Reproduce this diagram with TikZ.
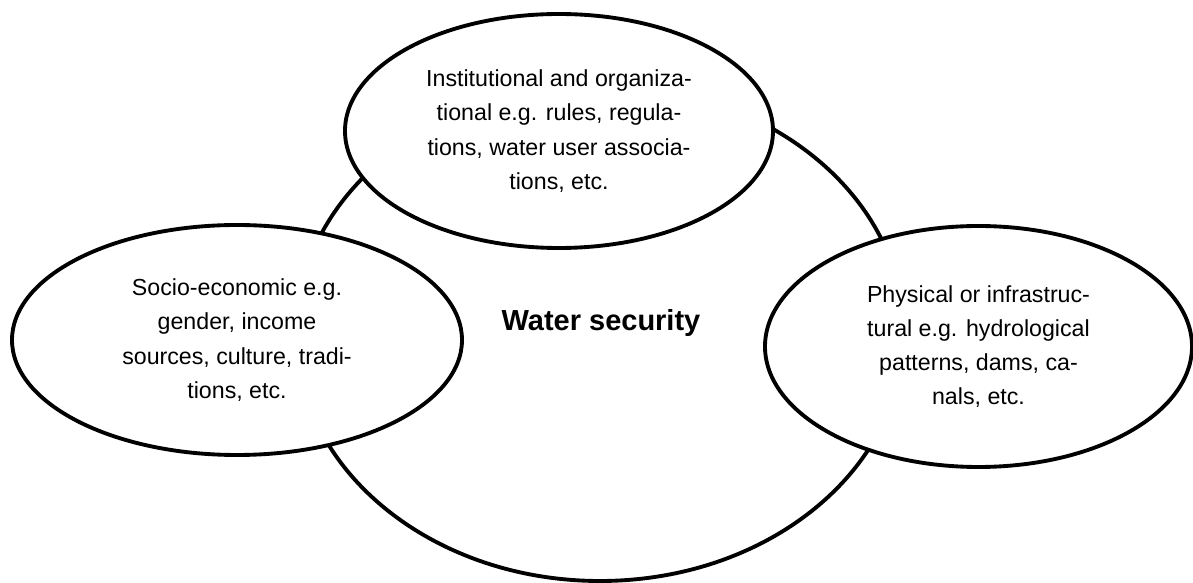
\documentclass[tikz,border=0pt]{standalone}
\usepackage{fontspec}
\setmainfont{Liberation Sans}
\usetikzlibrary{shapes.geometric, positioning}

\begin{document}
\begin{tikzpicture}[
    ring/.style={draw, ellipse, line width=2.2pt, inner sep=0pt},
    factor/.style={draw, ellipse, fill=white, line width=2.2pt, inner sep=0pt, align=center, font=\fontsize{13.2}{19.5}\selectfont},
    core/.style={draw=none, align=center, font=\fontsize{16.5}{19}\selectfont\bfseries}
]
\useasboundingbox (0,0) rectangle (23.86,11.66);

% Central ring - water security
\node[ring, minimum width=12.16cm, minimum height=9.92cm] (ring) at (12.0,5.0) {};
\node[core] (security) at ([xshift=0.02cm, yshift=0.2cm]ring.center) {Water security};

% Institutional - top
\node[factor, minimum width=8.56cm, minimum height=4.68cm] (inst) at (11.18,9.04)
    {Institutional and organiza-\\tional e.g. rules, regula-\\tions, water user associa-\\tions, etc.};

% Socio-economic - left
\node[factor, minimum width=9.0cm, minimum height=4.6cm] (socio) at (4.74,4.86)
    {Socio-economic e.g.\\gender, income\\sources, culture, tradi-\\tions, etc.};

% Physical - right
\node[factor, minimum width=8.54cm, minimum height=4.82cm] (phys) at (19.57,4.73)
    {Physical or infrastruc-\\tural e.g. hydrological\\patterns, dams, ca-\\nals, etc.};

\end{tikzpicture}
\end{document}
